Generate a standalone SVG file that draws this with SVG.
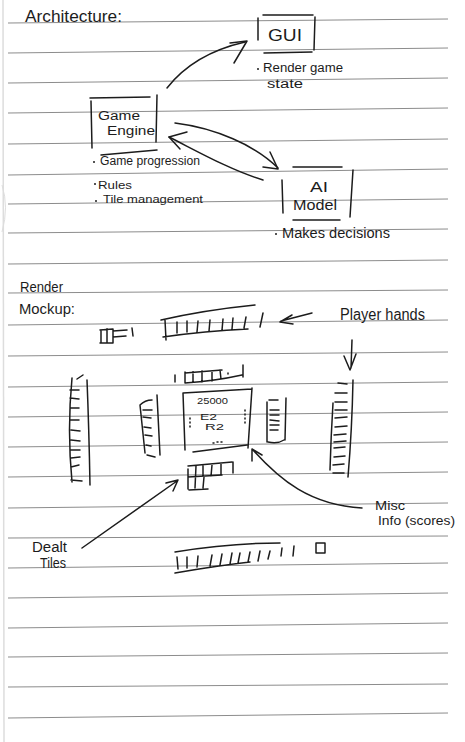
<svg xmlns="http://www.w3.org/2000/svg" width="465" height="742" viewBox="0 0 465 742">
<style>
.rule{stroke:#8c8c8c;stroke-width:1;fill:none}
.ink{stroke:#1c1c1c;stroke-width:1.5;fill:none;stroke-linecap:round;stroke-linejoin:round}
.t{font-family:"Liberation Sans",Arial,sans-serif;fill:#1c1c1c}
.sm{font-family:"Liberation Sans",Arial,sans-serif;fill:#1c1c1c;font-size:9px}
</style>
<rect width="465" height="742" fill="#ffffff"/>
<g id="page">
<path d="M3,0 L4,742" stroke="#dddddd" stroke-width="1.5" fill="none"/>
<path d="M2,185 Q9,207 2,232" stroke="#dddddd" stroke-width="1" fill="none"/>
<g class="rule">
<path d="M8,23 L448,19"/><path d="M8,53 L448,48"/><path d="M8,83 L448,78"/><path d="M8,113 L448,108"/>
<path d="M8,144 L448,139"/><path d="M8,175 L448,169"/><path d="M8,204 L448,199"/><path d="M8,233 L448,229"/>
<path d="M8,264 L448,260"/><path d="M8,293 L448,290"/><path d="M8,325 L448,320"/><path d="M8,356 L448,352"/>
<path d="M8,387 L448,382"/><path d="M8,417 L448,412"/><path d="M8,447 L448,442"/><path d="M8,477 L448,472"/>
<path d="M8,508 L448,503"/><path d="M8,538 L448,536"/><path d="M8,568 L448,563"/><path d="M8,598 L448,593"/>
<path d="M8,628 L448,623"/><path d="M8,657 L448,653"/><path d="M8,687 L448,684"/><path d="M8,718 L448,713"/>
</g>
</g>
<text class="t" x="25" y="22" font-size="17" textLength="97" lengthAdjust="spacingAndGlyphs">Architecture:</text>
<g id="gui">
<path class="ink" d="M263,15 L313,15 M258,18 L258,40 M315,17 L314,50 M264,53 L312,52"/>
<text class="t" x="268" y="41" font-size="16" textLength="34" lengthAdjust="spacingAndGlyphs">GUI</text>
<circle cx="258" cy="69" r="1" fill="#1c1c1c"/>
<text class="t" x="263" y="72" font-size="12" textLength="80" lengthAdjust="spacingAndGlyphs">Render game</text>
<text class="t" x="267" y="88" font-size="12" textLength="36" lengthAdjust="spacingAndGlyphs">state</text>
</g>
<g id="game-engine">
<path class="ink" d="M90,98 L150,97 M91,101 L92,148 M157,95 L156,142 M101,155 L157,150"/>
<text class="t" x="98" y="120" font-size="12" textLength="42" lengthAdjust="spacingAndGlyphs">Game</text>
<text class="t" x="107" y="135" font-size="12" textLength="48" lengthAdjust="spacingAndGlyphs">Engine</text>
<circle cx="94" cy="162" r="1" fill="#1c1c1c"/>
<text class="t" x="100" y="165" font-size="12" textLength="100" lengthAdjust="spacingAndGlyphs">Game progression</text>
<circle cx="95" cy="184" r="1" fill="#1c1c1c"/>
<text class="t" x="98" y="189" font-size="11" textLength="34" lengthAdjust="spacingAndGlyphs">Rules</text>
<circle cx="96" cy="201" r="1" fill="#1c1c1c"/>
<text class="t" x="103" y="203" font-size="11" textLength="100" lengthAdjust="spacingAndGlyphs">Tile management</text>
</g>
<g id="ai-model">
<path class="ink" d="M293,167 L342,167 M282,180 L283,213 M353,170 L350,217 M293,220 L340,220"/>
<text class="t" x="310" y="192" font-size="15" textLength="18" lengthAdjust="spacingAndGlyphs">AI</text>
<text class="t" x="293" y="210" font-size="15" textLength="44" lengthAdjust="spacingAndGlyphs">Model</text>
<circle cx="276" cy="234" r="1" fill="#1c1c1c"/>
<text class="t" x="282" y="238" font-size="14" textLength="108" lengthAdjust="spacingAndGlyphs">Makes decisions</text>
</g>
<g id="connectors" class="ink">
<path d="M167,88 C185,65 210,50 245,42"/><path d="M230,43 L247,41 L234,63"/>
<path d="M175,123 C215,128 255,145 278,168"/><path d="M270,152 L278,169 L263,167"/>
<path d="M263,180 C230,170 195,150 169,137"/><path d="M187,132 L169,137 L180,149"/>
</g>
<text class="t" x="20" y="292" font-size="15" textLength="43" lengthAdjust="spacingAndGlyphs">Render</text>
<text class="t" x="19" y="314" font-size="15" textLength="56" lengthAdjust="spacingAndGlyphs">Mockup:</text>
<g id="mockup" class="ink">
<path d="M161,320 Q205,310 255,305 M163,337 Q205,331 248,329 M165,320 L166,340 M177,322 L177,333 M187,321 L187,332 M198,321 L197,332 M210,320 L209,331 M223,319 L222,330 M233,318 L232,329 M246,317 L244,328 M263,313 L260,327"/>
<path d="M101,330 L101,343 M107,329 L107,343 M100,330 L113,329 M100,343 L113,343 M113,329 L113,343 M113,331 L127,330 M113,337 L126,336 M132,328 L133,336"/>
<path d="M72,378 Q67,430 72,482 M87,380 Q89,430 90,485 M77,379 L83,375 M70,390 L79,390 M70,398 L79,399 M70,408 L79,408 M70,420 L79,420 M71,430 L80,431 M71,440 L80,441 M71,450 L80,450 M71,458 L80,457 M71,467 L79,465 M71,480 L82,481"/>
<path d="M140,405 Q145,400 152,400 M140,405 L145,453 M157,395 L160,455 M143,410 L152,410 M143,417 L151,418 M144,427 L151,428 M145,435 L152,436 M146,445 L151,446 M147,455 L155,457"/>
<path d="M183,393 L252,389 M183,393 L185,450 M252,388 L248,448 M193,452 L247,445"/>
<path d="M190,418 L190,419 M190,422 L190,423 M190,426 L190,427 M245,410 L245,411 M245,414 L245,415 M245,418 L245,419 M245,422 L245,423 M213,443 L214,443 M217,442 L218,442 M221,442 L222,442"/>
<path d="M185,373 L222,370 M185,383 Q215,381 242,375 M175,375 L175,382 M185,372 L185,383 M193,372 L193,382 M202,371 L202,382 M212,371 L212,381 M220,370 L221,379 M228,373 L228,374 M243,365 L243,377"/>
<path d="M267,402 L267,442 M286,398 L285,440 M269,400 L278,400 M270,410 L279,410 M270,415 L279,415 M270,420 L279,421 M270,425 L279,425 M270,430 L278,430 M268,442 Q278,444 284,440"/>
<path d="M188,466 L232,462 M188,469 L188,489 M189,490 L208,489 M188,477 L222,475 M196,466 L195,488 M203,465 L203,476 M212,465 L211,476 M221,463 L221,475 M204,477 L203,488 M233,462 L233,473"/>
<path d="M353,380 Q352,430 348,477 M333,403 Q331,435 330,470 M338,383 L347,384 M335,393 L347,393 M335,402 L347,402 M335,410 L347,410 M335,418 L347,417 M335,427 L347,426 M334,435 L346,434 M334,442 L346,441 M334,448 L345,447 M334,457 L345,456 M333,465 L344,464 M333,473 L344,473"/>
<path d="M175,552 Q230,543 280,543 M175,573 Q215,566 250,562 M177,557 L178,569 M187,557 L187,568 M198,556 L197,567 M212,555 L210,566 M222,554 L220,565 M232,553 L230,564 M240,553 L238,563 M250,552 L248,562 M260,551 L258,561 M270,551 L268,559 M282,548 L281,556 M294,546 L293,556 M316,543 L325,543 L325,553 L316,553 Z"/>
<path d="M312,313 L281,321 M292,315 L280,322 L293,324"/>
<path d="M352,340 L351,368 M344,356 L350,370 L356,354"/>
<path d="M82,548 L177,481 M166,483 L178,480 L173,491"/>
<path d="M362,508 C310,505 280,480 253,450 M252,461 L252,449 L262,455"/>
</g>
<text class="sm" x="197" y="404" textLength="31" lengthAdjust="spacingAndGlyphs">25000</text>
<text class="sm" x="200" y="420" textLength="17" lengthAdjust="spacingAndGlyphs">E2</text>
<text class="sm" x="205" y="430" textLength="19" lengthAdjust="spacingAndGlyphs">R2</text>
<text class="t" x="340" y="320" font-size="16" textLength="85" lengthAdjust="spacingAndGlyphs">Player hands</text>
<text class="t" x="32" y="552" font-size="14" textLength="35" lengthAdjust="spacingAndGlyphs">Dealt</text>
<text class="t" x="40" y="568" font-size="14" textLength="26" lengthAdjust="spacingAndGlyphs">Tiles</text>
<text class="t" x="375" y="510" font-size="13" textLength="30" lengthAdjust="spacingAndGlyphs">Misc</text>
<text class="t" x="378" y="525" font-size="13" textLength="77" lengthAdjust="spacingAndGlyphs">Info (scores)</text>
</svg>
